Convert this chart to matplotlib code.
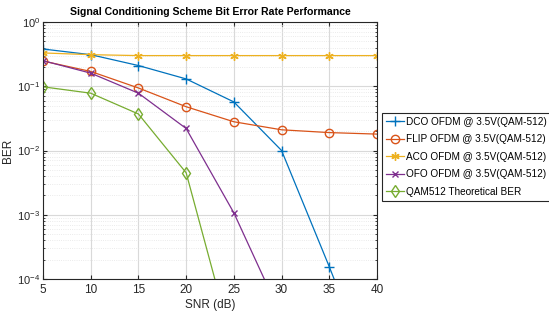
import matplotlib.pyplot as plt
from matplotlib.ticker import LogLocator, NullFormatter

plt.rcParams['font.family'] = ['Liberation Sans', 'DejaVu Sans']
plt.rcParams['mathtext.fontset'] = 'custom'
plt.rcParams['mathtext.rm'] = 'Liberation Sans'

snr = [5, 10, 15, 20, 25, 30, 35, 40]
snr_qam = [5, 10, 15, 20, 25]

dco = [0.38, 0.31, 0.21, 0.13, 0.057, 0.010, 1.55e-4, 2e-6]
flip = [0.247, 0.17, 0.094, 0.048, 0.028, 0.021, 0.019, 0.018]
aco = [0.33, 0.31, 0.30, 0.30, 0.30, 0.30, 0.30, 0.30]
ofo = [0.25, 0.16, 0.078, 0.022, 1.07e-3, 2.6e-5]
qam = [0.098, 0.078, 0.037, 4.5e-3, 8e-6]

labels = ['DCO OFDM @ 3.5V(QAM-512)', 'FLIP OFDM @ 3.5V(QAM-512)',
          'ACO OFDM @ 3.5V(QAM-512)', 'OFO OFDM @ 3.5V(QAM-512)',
          'QAM512 Theoretical BER']
colors = ['#0072BD', '#D95319', '#EDB120', '#7E2F8E', '#77AC30']
asterisk = (6, 2, 0)  # matlab style '*'

fig = plt.figure(figsize=(5.49, 3.22), dpi=100)
ax = fig.add_axes([43 / 549, 1 - 279 / 322, 334 / 549, 257 / 322])

ax.semilogy(snr, dco, '-+', color=colors[0], lw=0.9, ms=6.5, label=labels[0])
ax.semilogy(snr, flip, '-o', color=colors[1], lw=0.9, ms=6, mfc='none', label=labels[1])
ax.semilogy(snr, aco, '-', marker=asterisk, color=colors[2], lw=0.9, ms=6, label=labels[2])
ax.semilogy(snr[:len(ofo)], ofo, '-x', color=colors[3], lw=0.9, ms=4.5, label=labels[3])
ax.semilogy(snr_qam, qam, '-d', color=colors[4], lw=0.9, ms=6.5, mfc='none', label=labels[4])

ax.set_xlim(5, 40)
ax.set_ylim(1e-4, 1)
ax.set_xticks(range(5, 41, 5))
ax.yaxis.set_minor_locator(LogLocator(base=10, subs=range(2, 10)))
ax.yaxis.set_minor_formatter(NullFormatter())

ax.grid(True, which='major', color='#d9d9d9', lw=0.8)
ax.grid(True, which='minor', axis='y', color='#e4e4e4', lw=0.6, ls=':')
ax.set_axisbelow(True)
ax.tick_params(which='both', direction='in', top=True, right=True, labelsize=8.5, colors='#262626')
ax.tick_params(axis='y', labelsize=8, pad=2)
ax.tick_params(which='major', length=3)
ax.tick_params(which='minor', length=1.5)
for s in ax.spines.values():
    s.set_color('#262626')
    s.set_linewidth(0.8)

ax.set_xlabel('SNR (dB)', fontsize=8.5, color='#262626', labelpad=2)
ax.set_ylabel('BER', fontsize=8.5, color='#262626')
ax.yaxis.set_label_coords(-0.088, 0.5)
ax.set_title('Signal Conditioning Scheme Bit Error Rate Performance',
             fontsize=7.6, fontweight='bold', pad=5)

leg = ax.legend(loc='upper left', bbox_to_anchor=(382 / 549, 1 - 113 / 322),
                bbox_transform=fig.transFigure, borderaxespad=0, fontsize=7.2,
                fancybox=False, framealpha=1, edgecolor='#262626',
                handlelength=1.8, handletextpad=0.15, borderpad=0.4, labelspacing=0.75)
leg.get_frame().set_linewidth(0.8)

fig.savefig('out.png', dpi=100)
